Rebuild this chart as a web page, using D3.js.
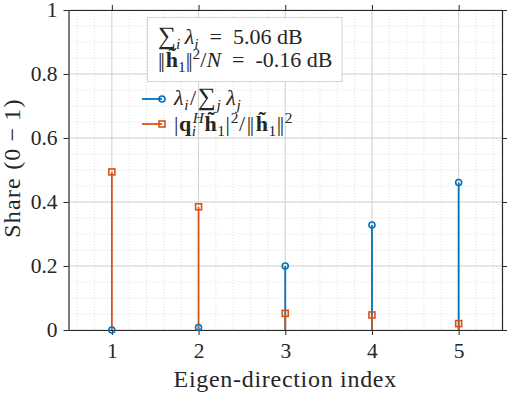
<!DOCTYPE html>
<html lang="en">
	<head>
		<meta charset="utf-8">
		<title>Eigen-direction share</title>
		<script src="https://cdn.jsdelivr.net/npm/d3@7"></script>
		<style>
			body { margin: 0; background: #fff; }
			text { font-family: "Liberation Serif", "Times New Roman", serif; fill: #262626; }
		</style>
	</head>
	<body>
		<script type="text/javascript">
			// data
			var indices = [1, 2, 3, 4, 5];
			var eigShare = [0.0, 0.008, 0.2, 0.328, 0.461];
			var projShare = [0.494, 0.385, 0.052, 0.047, 0.02];
			var xTicks = [1, 2, 3, 4, 5];
			var yTicks = [0, 0.2, 0.4, 0.6, 0.8, 1];
			var yTickLabels = ["0", "0.2", "0.4", "0.6", "0.8", "1"];
			var xMinor = d3.range(6, 55, 2).map(function (v) { return v / 10; });
			var yMinor = d3.range(0, 21).map(function (v) { return v / 20; });

			// page parameters
			var width = 509;
			var height = 395;
			var padLeft = 68.5, padRight = 502, padTop = 10, padBottom = 330;
			var blue = "#0072BD";
			var orange = "#D95319";

			var svg = d3.select("body").append("svg").attr("width", width).attr("height", height);

			var x = d3.scaleLinear().domain([0.5, 5.5]).range([padLeft, padRight]);
			var y = d3.scaleLinear().domain([0, 1]).range([padBottom, padTop]);

			// minor grid (dotted)
			svg.append("g").selectAll("line").data(xMinor).enter().append("line")
				.attr("x1", function (d) { return x(d); }).attr("x2", function (d) { return x(d); })
				.attr("y1", padTop).attr("y2", padBottom)
				.attr("stroke", "#dedede").attr("stroke-width", 1).attr("stroke-dasharray", "1,2");
			svg.append("g").selectAll("line").data(yMinor).enter().append("line")
				.attr("y1", function (d) { return y(d); }).attr("y2", function (d) { return y(d); })
				.attr("x1", padLeft).attr("x2", padRight)
				.attr("stroke", "#dedede").attr("stroke-width", 1).attr("stroke-dasharray", "1,2");

			// major grid
			svg.append("g").selectAll("line").data(xTicks).enter().append("line")
				.attr("x1", function (d) { return x(d); }).attr("x2", function (d) { return x(d); })
				.attr("y1", padTop).attr("y2", padBottom)
				.attr("stroke", "#d2d2d2").attr("stroke-width", 1);
			svg.append("g").selectAll("line").data(yTicks).enter().append("line")
				.attr("y1", function (d) { return y(d); }).attr("y2", function (d) { return y(d); })
				.attr("x1", padLeft).attr("x2", padRight)
				.attr("stroke", "#d2d2d2").attr("stroke-width", 1);

			// axes, ticks pointing out on all four sides
			var xAxis = d3.axisBottom(x).tickValues(xTicks).tickSize(5).tickPadding(8).tickSizeOuter(0)
				.tickFormat(d3.format("d"));
			var yAxis = d3.axisLeft(y).tickValues(yTicks).tickSize(5).tickPadding(6).tickSizeOuter(0)
				.tickFormat(function (d, i) { return yTickLabels[i]; });

			svg.append("g").attr("transform", "translate(0," + padBottom + ")").call(xAxis);
			svg.append("g").attr("transform", "translate(" + padLeft + ",0)").call(yAxis);
			svg.append("g").attr("transform", "translate(0," + padTop + ")")
				.call(d3.axisTop(x).tickValues(xTicks).tickSize(5).tickSizeOuter(0).tickFormat(""));
			svg.append("g").attr("transform", "translate(" + padRight + ",0)")
				.call(d3.axisRight(y).tickValues(yTicks).tickSize(5).tickSizeOuter(0).tickFormat(""));

			svg.selectAll(".domain").attr("stroke", "#262626").attr("stroke-width", 1.2);
			svg.selectAll(".tick line").attr("stroke", "#262626").attr("stroke-width", 1);
			svg.selectAll(".tick text").style("font-size", "21.5px")
				.style("font-family", "'Liberation Serif', serif").attr("fill", "#262626");

			// stems: lines first (blue, then orange), markers on top
			var series = [
				{ vals: eigShare, color: blue, shape: "circle" },
				{ vals: projShare, color: orange, shape: "square" }
			];
			series.forEach(function (s) {
				svg.append("g").selectAll("line").data(s.vals).enter().append("line")
					.attr("x1", function (d, i) { return x(indices[i]); })
					.attr("x2", function (d, i) { return x(indices[i]); })
					.attr("y1", y(0))
					.attr("y2", function (d) { return y(d); })
					.attr("stroke", s.color).attr("stroke-width", 1.8);
			});
			series.forEach(function (s) {
				var g = svg.append("g");
				if (s.shape == "circle") {
					g.selectAll("circle").data(s.vals).enter().append("circle")
						.attr("cx", function (d, i) { return x(indices[i]); })
						.attr("cy", function (d) { return y(d); })
						.attr("r", 3).attr("fill", "none")
						.attr("stroke", s.color).attr("stroke-width", 1.6);
				} else {
					g.selectAll("rect").data(s.vals).enter().append("rect")
						.attr("x", function (d, i) { return x(indices[i]) - 3; })
						.attr("y", function (d) { return y(d) - 3; })
						.attr("width", 6).attr("height", 6).attr("fill", "none")
						.attr("stroke", s.color).attr("stroke-width", 1.6);
				}
			});

			// small helper for math-like text: parts are [text, style, dx]
			// style letters: i italic, b bold, _ subscript, ^ superscript, L large
			function mathText(g, xPos, yPos, size, parts) {
				var t = g.append("text").attr("x", xPos).attr("y", yPos).style("font-size", size + "px");
				var shift = 0;
				parts.forEach(function (p) {
					var st = p[1] || "";
					var s = 0;
					if (st.indexOf("_") >= 0) s = size * 0.22;
					if (st.indexOf("^") >= 0) s = -size * 0.36;
					var fs = s != 0 ? size * 0.7 : size;
					if (st.indexOf("L") >= 0) fs = size * 1.15;
					var ts = t.append("tspan").text(p[0])
						.attr("dy", s - shift)
						.style("font-size", fs + "px")
						.style("font-style", st.indexOf("i") >= 0 ? "italic" : "normal")
						.style("font-weight", st.indexOf("b") >= 0 ? "bold" : "normal");
					if (p[2]) ts.attr("dx", p[2]);
					shift = s;
				});
				return t;
			}

			// annotation box
			svg.append("rect").attr("x", 147.5).attr("y", 17.5).attr("width", 194.5).attr("height", 64)
				.attr("fill", "#fff").attr("stroke", "#d4d4d4").attr("stroke-width", 1);
			mathText(svg, 158, 44, 22, [
				["\u2211", "L"], ["i", "i_"], ["\u2009"], ["\u03bb", "i"], ["i", "i_"], ["\u2002=\u20025.06 dB"]
			]);
			mathText(svg, 158, 67, 22, [
				["|"], ["|", "", -2], ["h\u0303", "b", 1], ["1", "_"], ["|"], ["|", "", -2], ["2", "^"], ["/"], ["N", "i"],
				["\u2002=\u2002-0.16 dB"]
			]);

			// legend (no box)
			var legendRows = [
				{ color: blue, shape: "circle", yy: 99 },
				{ color: orange, shape: "square", yy: 124 }
			];
			legendRows.forEach(function (r) {
				svg.append("line").attr("x1", 142).attr("x2", 162).attr("y1", r.yy).attr("y2", r.yy)
					.attr("stroke", r.color).attr("stroke-width", 1.8);
				if (r.shape == "circle") {
					svg.append("circle").attr("cx", 162).attr("cy", r.yy).attr("r", 3)
						.attr("fill", "none").attr("stroke", r.color).attr("stroke-width", 1.6);
				} else {
					svg.append("rect").attr("x", 159).attr("y", r.yy - 3).attr("width", 6).attr("height", 6)
						.attr("fill", "none").attr("stroke", r.color).attr("stroke-width", 1.6);
				}
			});
			mathText(svg, 174, 105, 22, [
				["\u03bb", "i"], ["i", "i_"], ["/", "", 1], ["\u2211", "L", 1], ["j", "i_"], ["\u2009"], ["\u03bb", "i"], ["j", "i_"]
			]).style("letter-spacing", "0.6px");
			mathText(svg, 174, 131, 22, [
				["|"], ["q", "b"], ["i", "i_"], ["H", "i^", -4], ["h\u0303", "b"], ["1", "_"], ["|"], ["2", "^"],
				["/"], ["|", "", 1], ["|", "", -2], ["h\u0303", "b", 1], ["1", "_"], ["|"], ["|", "", -2], ["2", "^"]
			]).style("letter-spacing", "0.6px");

			// axis labels
			svg.append("text")
				.attr("x", (padLeft + padRight) / 2).attr("y", 387)
				.attr("text-anchor", "middle")
				.style("font-size", "24px").style("letter-spacing", "0.7px")
				.text("Eigen-direction index");

			svg.append("text")
				.attr("transform", "translate(20,168) rotate(-90)")
				.attr("text-anchor", "middle")
				.style("font-size", "24px").style("letter-spacing", "1.2px")
				.text("Share (0\u2009\u2212\u20091)");
		</script>
	</body>
</html>
